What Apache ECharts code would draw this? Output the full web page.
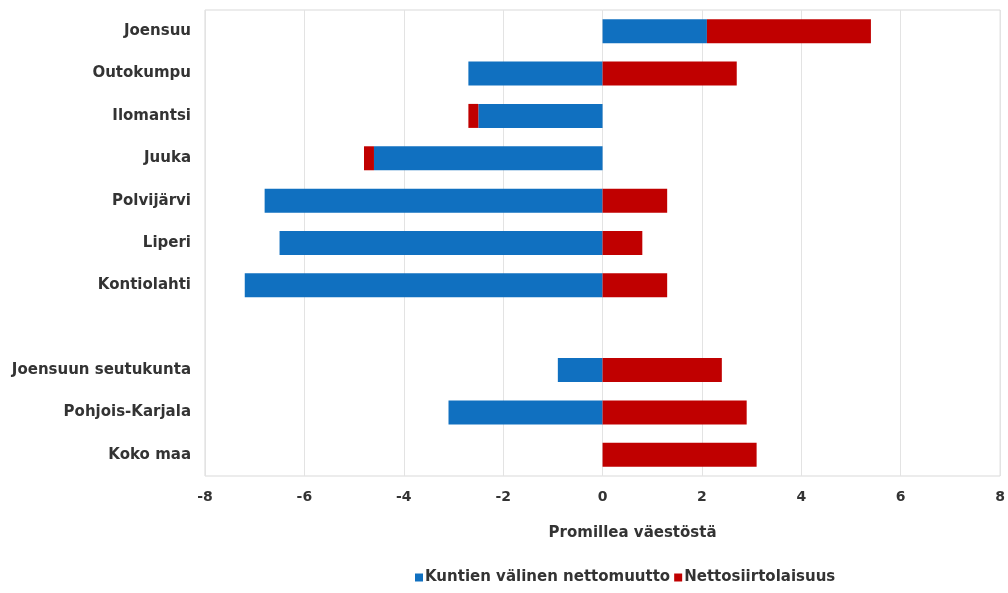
<!DOCTYPE html>
<html>
<head>
<meta charset="utf-8">
<script src="https://cdn.jsdelivr.net/npm/echarts@6/dist/echarts.min.js"></script>
<style>html,body{margin:0;padding:0;background:#fff}#c{width:1008px;height:593px}</style>
</head>
<body>
<div id="c"></div>
<script>
var categories = ['Joensuu','Outokumpu','Ilomantsi','Juuka','Polvijärvi','Liperi','Kontiolahti','','Joensuun seutukunta','Pohjois-Karjala','Koko maa'];
var kuntienValinen = [2.1,-2.7,-2.5,-4.6,-6.8,-6.5,-7.2,null,-0.9,-3.1,0];
var nettosiirto = [3.3,2.7,-0.2,-0.2,1.3,0.8,1.3,null,2.4,2.9,3.1];
var xTicks = {min:-8, max:8, interval:2};
var seriesNames = ['Kuntien välinen nettomuutto','Nettosiirtolaisuus'];
var axisTitle = 'Promillea väestöstä';

var chart = echarts.init(document.getElementById('c'), null, {renderer:'canvas'});
var font = 'DejaVu Sans, sans-serif';
chart.setOption({
  animation:false,
  textStyle:{fontFamily:font},
  grid:{left:205,right:6,top:10,bottom:117,show:true,borderColor:'#d9d9d9',borderWidth:1},
  legend:{
    bottom:3,left:410,itemWidth:8,itemHeight:8,itemGap:4,icon:'rect',
    textStyle:{fontSize:15,color:'#333333',fontFamily:font,fontWeight:'bold',padding:[0,0,0,-3]},
    data:seriesNames
  },
  xAxis:{
    type:'value',min:xTicks.min,max:xTicks.max,interval:xTicks.interval,
    name:axisTitle,nameLocation:'middle',nameGap:50,
    nameTextStyle:{fontSize:15,color:'#333333',fontFamily:font,fontWeight:'bold',padding:[0,0,0,60]},
    axisLine:{show:false},axisTick:{show:false},
    axisLabel:{fontSize:14,color:'#333333',margin:14,fontFamily:font,fontWeight:'bold'},
    splitLine:{lineStyle:{color:'#e3e3e3'}}
  },
  yAxis:{
    type:'category',data:categories,inverse:true,
    axisLine:{show:false},axisTick:{show:false},
    axisLabel:{fontSize:15,color:'#333333',margin:14,fontFamily:font,fontWeight:'bold'},
    splitLine:{show:false}
  },
  series:[
    {name:seriesNames[0],type:'bar',stack:'s',data:kuntienValinen,barWidth:24,itemStyle:{color:'#1070c0'}},
    {name:seriesNames[1],type:'bar',stack:'s',data:nettosiirto,barWidth:24,itemStyle:{color:'#c00000'}}
  ]
});
</script>
</body>
</html>
